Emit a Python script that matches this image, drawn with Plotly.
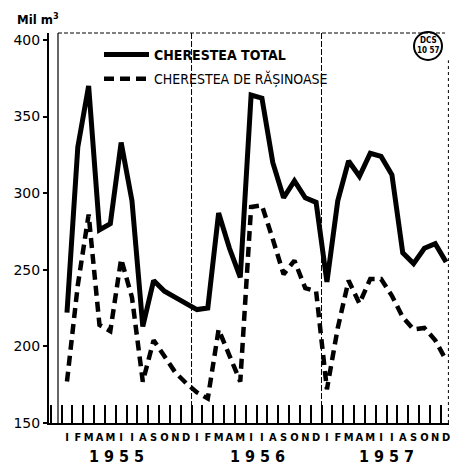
import plotly.graph_objects as go

# ---- data ----
month_labels = ["I", "F", "M", "A", "M", "I", "I", "A", "S", "O", "N", "D"] * 3
years = ["1955", "1956", "1957"]
total = [222, 330, 370, 276, 280, 333, 295, 213, 243, 236, 232, 228,
         224, 225, 287, 264, 245, 364, 362, 320, 297, 308, 297, 294,
         242, 295, 321, 311, 326, 324, 312, 261, 254, 264, 267, 255]
rasinoase = [177, 240, 286, 214, 210, 257, 232, 177, 204, 193, 183, 176,
             170, 166, 211, 194, 177, 291, 292, 270, 247, 256, 238, 236,
             172, 212, 243, 228, 244, 244, 233, 219, 211, 212, 204, 191]
y_ticks = [150, 200, 250, 300, 350, 400]
name_total = "CHERESTEA TOTAL"
name_ras = "CHERESTEA DE RĂȘINOASE"

x = list(range(len(total)))
FONT = "DejaVu Sans Condensed, DejaVu Sans, Liberation Sans Narrow, sans-serif"

fig = go.Figure()
fig.add_trace(go.Scatter(
    x=x, y=total, mode="lines", name="<b>" + name_total + "</b>",
    line=dict(color="black", width=5), legendgroup="a"))
fig.add_trace(go.Scatter(
    x=x, y=rasinoase, mode="lines", name=name_ras,
    line=dict(color="black", width=4.5, dash="10px,6px"), legendgroup="b"))

# boundary ticks axis (between months)
fig.add_trace(go.Scatter(x=[x[0]], y=[y_ticks[0]], xaxis="x2", mode="markers",
                         marker=dict(opacity=0), showlegend=False, hoverinfo="skip"))

xr = [-1.66, 35.27]
fig.update_layout(
    width=451, height=466,
    margin=dict(l=49, r=2, t=33, b=43),
    paper_bgcolor="white", plot_bgcolor="white",
    font=dict(family=FONT, color="black"),
    showlegend=True,
    legend=dict(x=0.125, y=0.985, xanchor="left", yanchor="top",
                bgcolor="rgba(0,0,0,0)", font=dict(size=14, family=FONT),
                traceorder="grouped", tracegroupgap=3, itemwidth=45),
    xaxis=dict(range=xr, tickmode="array", tickvals=x, ticktext=month_labels,
               ticks="", showgrid=False, zeroline=False, tickangle=0,
               showline=True, linecolor="black", linewidth=2,
               tickfont=dict(size=11, family="DejaVu Sans Condensed, DejaVu Sans",
                             color="black", weight="bold"),
               ticklabelstandoff=3, fixedrange=True),
    xaxis2=dict(range=xr, overlaying="x", anchor="y", side="bottom",
                tickmode="linear", tick0=0.5, dtick=1,
                ticks="inside", ticklen=18, tickwidth=1.5, tickcolor="black",
                showticklabels=False, showgrid=False, zeroline=False,
                showline=False),
    yaxis=dict(range=[150, 404.5], tickvals=y_ticks, ticks="outside", ticklen=4,
               tickwidth=1.5, tickcolor="black",
               showline=True, linecolor="black", linewidth=2,
               showgrid=False, zeroline=False,
               tickfont=dict(size=14, family="DejaVu Sans", color="black"),
               fixedrange=True),
)

# frame and dividers
fig.add_shape(type="line", xref="paper", yref="paper", x0=0.0225, x1=0.0225, y0=0, y1=1,
              line=dict(color="black", width=1.2))
fig.add_shape(type="line", xref="paper", yref="paper", x0=0.0225, x1=0.99, y0=1, y1=1,
              line=dict(color="black", width=1, dash="4px,2px"))
fig.add_shape(type="line", xref="paper", yref="paper", x0=0.9985, x1=0.9985, y0=0, y1=0.93,
              line=dict(color="black", width=1, dash="3px,3px"))
for xv in (11.5, 23.5):
    fig.add_shape(type="line", xref="x", yref="paper", x0=xv, x1=xv, y0=0, y1=1,
                  line=dict(color="black", width=1, dash="6px,2px"))

# year labels
for yr, pos in zip(years, [4.6, 17.6, 29.5]):
    fig.add_annotation(x=pos, xref="x", y=-0.086, yref="paper",
                       xanchor="center", yanchor="middle",
                       text="<b>" + " ".join(yr) + "</b>", showarrow=False,
                       font=dict(size=16, family="DejaVu Sans Condensed, DejaVu Sans",
                                 color="black"))

# unit label
fig.add_annotation(x=-0.0275, xref="paper", y=1.036, yref="paper",
                   xanchor="center", yanchor="middle",
                   text="<b>Mil m<sup>3</sup></b>", showarrow=False,
                   font=dict(size=13, family=FONT, color="black"))

# stamp
fig.add_shape(type="circle", xref="paper", yref="paper",
              x0=0.9125, x1=0.9825, y0=0.9308, y1=1.0026,
              line=dict(color="black", width=2))
fig.add_annotation(x=0.9475, xref="paper", y=0.9667, yref="paper",
                   xanchor="center", yanchor="middle", align="center",
                   text="<b>DCS<br>10 57</b>", showarrow=False,
                   font=dict(size=8, family=FONT, color="black"))

fig.write_html("out.html", config={"displayModeBar": False},
               post_script="document.body.style.margin='0';document.body.style.overflow='hidden';")
